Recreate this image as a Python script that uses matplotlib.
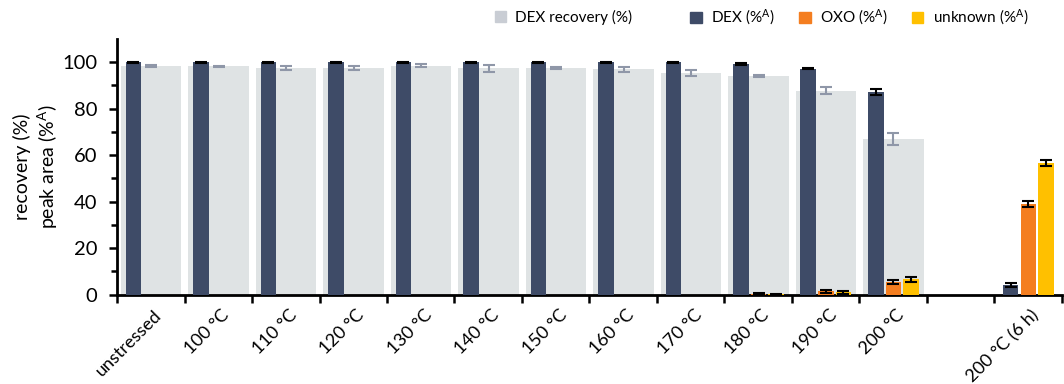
import numpy as np
import matplotlib
matplotlib.use("Agg")
import matplotlib.pyplot as plt
import matplotlib.transforms as mtransforms
from matplotlib.patches import Patch

plt.rcParams['font.family'] = ['Lato', 'DejaVu Sans']
plt.rcParams['mathtext.fontset'] = 'custom'
plt.rcParams['mathtext.rm'] = 'Lato'
plt.rcParams['mathtext.it'] = 'Lato'

# conditions (an empty slot sits before the 6 h sample)
labels = ["unstressed", "100 °C", "110 °C", "120 °C", "130 °C", "140 °C", "150 °C",
          "160 °C", "170 °C", "180 °C", "190 °C", "200 °C", "", "200 °C (6 h)"]

nan = np.nan
recovery = [98.3, 98.2, 97.4, 97.4, 98.4, 97.4, 97.5, 96.8, 95.4, 94.0, 87.7, 66.9, nan, nan]
recovery_err = [0.6, 0.2, 0.9, 0.9, 0.6, 1.5, 0.3, 1.0, 1.2, 0.3, 1.4, 2.5, nan, nan]

dex = [99.9, 99.9, 99.9, 99.9, 99.9, 99.9, 99.9, 99.8, 99.8, 99.2, 97.2, 87.2, nan, 4.2]
dex_err = [0.2, 0.2, 0.2, 0.2, 0.2, 0.2, 0.2, 0.2, 0.2, 0.3, 0.4, 1.2, nan, 1.0]

oxo = [nan, nan, nan, nan, nan, nan, nan, nan, nan, 0.4, 1.4, 5.6, nan, 39.0]
oxo_err = [nan, nan, nan, nan, nan, nan, nan, nan, nan, 0.2, 0.5, 0.8, nan, 1.2]

unknown = [nan, nan, nan, nan, nan, nan, nan, nan, nan, 0.2, 1.0, 6.6, nan, 56.6]
unknown_err = [nan, nan, nan, nan, nan, nan, nan, nan, nan, 0.2, 0.5, 1.2, nan, 1.3]

c_rec = "#dfe3e4"
c_rec_leg = "#c9cdd4"
c_rec_err = "#8f97a8"
c_dex = "#3e4b67"
c_oxo = "#f47e20"
c_unk = "#ffc000"

x = np.arange(len(labels))
w = 0.23

fig = plt.figure(figsize=(10.64, 3.84), dpi=100)
ax = fig.add_axes([0.110, 0.2326, 0.888, 0.6665])

ax.bar(x + 0.005, recovery, 0.9, color=c_rec, zorder=1)
ax.errorbar(x + 0.005, recovery, yerr=recovery_err, fmt="none", ecolor=c_rec_err,
            elinewidth=1.5, capsize=4, capthick=1.5, zorder=2)

ebar = dict(fmt="none", ecolor="black", elinewidth=1.5, capsize=4, capthick=1.5, zorder=4)
ax.bar(x - 0.258, dex, w, color=c_dex, zorder=3)
ax.errorbar(x - 0.258, dex, yerr=dex_err, **ebar)
ax.bar(x + 0.005, oxo, w, color=c_oxo, zorder=3)
ax.errorbar(x + 0.005, oxo, yerr=oxo_err, **ebar)
ax.bar(x + 0.262, unknown, w, color=c_unk, zorder=3)
ax.errorbar(x + 0.262, unknown, yerr=unknown_err, **ebar)

ax.set_xlim(-0.5, len(labels) - 0.5)
ax.set_ylim(0, 110)
ax.set_yticks(np.arange(0, 101, 20))
ax.set_yticks(np.arange(10, 101, 20), minor=True)
ax.tick_params(axis="y", which="major", length=6, width=1.8, labelsize=14.5, pad=8)
ax.tick_params(axis="y", which="minor", length=4, width=1.8)

# group separators as ticks, labels at group centres
ax.set_xticks(np.arange(-0.5, len(labels), 1.0))
ax.set_xticklabels([])
ax.set_xticks(x, minor=True)
ax.set_xticklabels(labels, minor=True, rotation=45, ha="right", rotation_mode="anchor",
                   fontsize=13)
ax.tick_params(axis="x", which="major", length=6, width=1.8, direction="out")
ax.tick_params(axis="x", which="minor", length=0, pad=9)
shift = mtransforms.ScaledTranslation(2 / 72, 0, fig.dpi_scale_trans)
for t in ax.get_xticklabels(minor=True):
    t.set_transform(t.get_transform() + shift)

for s in ["top", "right"]:
    ax.spines[s].set_visible(False)
for s in ["left", "bottom"]:
    ax.spines[s].set_linewidth(2)

ax.set_ylabel("recovery (%)\npeak area (%$^{\\mathrm{A}}$)", fontsize=14, labelpad=2,
              linespacing=1.25)

fig.legend(handles=[Patch(color=c_rec_leg, label="DEX recovery (%)")],
           loc="center left", bbox_to_anchor=(0.452, 0.955), frameon=False,
           fontsize=11, handlelength=0.75, handleheight=0.75, handletextpad=0.6)
fig.legend(handles=[Patch(color=c_dex, label="DEX (%$^{\\mathrm{A}}$)"),
                    Patch(color=c_oxo, label="OXO (%$^{\\mathrm{A}}$)"),
                    Patch(color=c_unk, label="unknown (%$^{\\mathrm{A}}$)")],
           loc="center left", bbox_to_anchor=(0.636, 0.955), ncol=3, frameon=False,
           fontsize=11, handlelength=0.75, handleheight=0.75, handletextpad=0.6,
           columnspacing=1.6)

fig.savefig("out.png", dpi=100)
